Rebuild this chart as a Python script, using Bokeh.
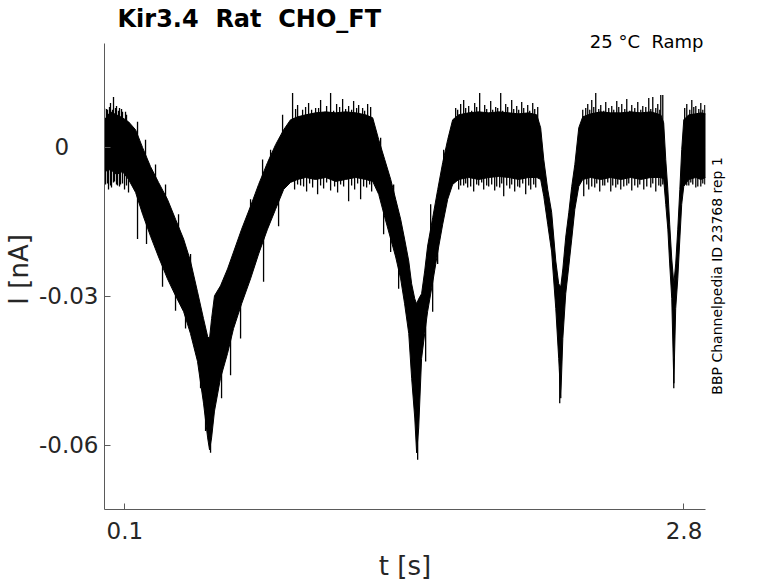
import math
from bokeh.plotting import figure
from bokeh.models import Label, FixedTicker, Range1d, LinearAxis
from bokeh.embed import file_html
from bokeh.resources import INLINE

# ---- data (time in s, current in nA) ----
t_env = [0.002, 0.031, 0.060, 0.089, 0.118, 0.152, 0.186, 0.224, 0.263, 0.306, 0.345, 0.384, 0.417, 0.451,
         0.480, 0.500, 0.509, 0.519, 0.533, 0.562, 0.596, 0.625, 0.664, 0.707, 0.746, 0.789, 0.828, 0.867,
         0.900, 0.934, 0.973, 1.021, 1.070, 1.118, 1.166, 1.215, 1.263, 1.297, 1.326, 1.355, 1.384, 1.408,
         1.432, 1.451, 1.471, 1.485, 1.500, 1.509, 1.519, 1.533, 1.548, 1.562, 1.587, 1.611, 1.635, 1.659,
         1.683, 1.712, 1.760, 1.809, 1.857, 1.905, 1.954, 2.002, 2.050, 2.089, 2.108, 2.123, 2.142, 2.161,
         2.181, 2.195, 2.205, 2.215, 2.229, 2.244, 2.258, 2.273, 2.292, 2.311, 2.350, 2.398, 2.446, 2.495,
         2.543, 2.591, 2.640, 2.688, 2.702, 2.712, 2.722, 2.731, 2.741, 2.751, 2.760, 2.770, 2.780, 2.789,
         2.799, 2.823, 2.857, 2.881, 2.905]
upper = [0.0055, 0.0071, 0.0065, 0.0059, 0.0051, 0.0035, -0.0001, -0.0039, -0.0071, -0.0105, -0.0145, -0.0185,
         -0.0229, -0.0291, -0.0345, -0.0381, -0.0385, -0.0345, -0.0299, -0.0279, -0.0245, -0.0211, -0.0165,
         -0.0119, -0.0075, -0.0031, 0.0005, 0.0035, 0.0055, 0.0061, 0.0065, 0.0069, 0.0071, 0.0069, 0.0071,
         0.0069, 0.0065, 0.0059, 0.0015, -0.0025, -0.0065, -0.0105, -0.0145, -0.0185, -0.0229, -0.0275,
         -0.0305, -0.0315, -0.0305, -0.0295, -0.0249, -0.0199, -0.0141, -0.0085, -0.0031, 0.0015, 0.0055,
         0.0065, 0.0069, 0.0071, 0.0069, 0.0071, 0.0069, 0.0067, 0.0069, 0.0065, 0.0039, -0.0025, -0.0085,
         -0.0131, -0.0229, -0.0275, -0.0281, -0.0245, -0.0181, -0.0131, -0.0079, -0.0035, 0.0039, 0.0061,
         0.0067, 0.0071, 0.0069, 0.0069, 0.0071, 0.0069, 0.0071, 0.0065, 0.0049, -0.0025, -0.0085, -0.0155,
         -0.0225, -0.0275, -0.0235, -0.0165, -0.0085, -0.0005, 0.0055, 0.0065, 0.0067, 0.0069, 0.0067]
lower = [-0.0049, -0.0045, -0.0055, -0.0049, -0.0065, -0.0091, -0.0135, -0.0179, -0.0221, -0.0265, -0.0299,
         -0.0331, -0.0375, -0.0431, -0.0515, -0.0585, -0.0609, -0.0585, -0.0531, -0.0465, -0.0415, -0.0365,
         -0.0315, -0.0265, -0.0215, -0.0165, -0.0125, -0.0085, -0.0071, -0.0065, -0.0061, -0.0065, -0.0061,
         -0.0069, -0.0065, -0.0061, -0.0065, -0.0069, -0.0095, -0.0141, -0.0185, -0.0221, -0.0265, -0.0315,
         -0.0375, -0.0465, -0.0545, -0.0615, -0.0565, -0.0425, -0.0375, -0.0331, -0.0271, -0.0211, -0.0155,
         -0.0105, -0.0075, -0.0065, -0.0061, -0.0065, -0.0061, -0.0059, -0.0061, -0.0065, -0.0061, -0.0061,
         -0.0065, -0.0099, -0.0155, -0.0211, -0.0325, -0.0425, -0.0505, -0.0385, -0.0295, -0.0239, -0.0185,
         -0.0125, -0.0079, -0.0065, -0.0061, -0.0065, -0.0061, -0.0065, -0.0061, -0.0065, -0.0061, -0.0061,
         -0.0065, -0.0115, -0.0165, -0.0235, -0.0305, -0.0475, -0.0325, -0.0265, -0.0185, -0.0115, -0.0079,
         -0.0065, -0.0061, -0.0065, -0.0061]

# long noise spikes: time, value inside the band, spike tip
spike_t = [0.0019, 0.0164, 0.0309, 0.0454, 0.0599, 0.0744, 0.0889, 0.1082,
           0.0068, 0.0213, 0.0357, 0.0502, 0.0647, 0.0792, 0.0986, 0.1179,
           0.1614, 0.2000, 0.2483, 0.2966, 0.3594, 0.4174,
           0.1614, 0.2048, 0.2821, 0.3449, 0.3932, 0.4657, 0.4899, 0.5140, 0.5671, 0.6106, 0.6589,
           0.7072, 0.7652, 0.7700, 0.8039, 0.8425, 0.8618,
           0.9101, 0.9343, 0.9585, 0.9874, 1.0213, 1.0454, 1.0744, 1.0937, 1.1227, 1.1517, 1.1807,
           1.2048, 1.2290, 1.2483, 1.2725, 1.2870,
           0.9198, 0.9488, 0.9778, 1.0068, 1.0309, 1.0599, 1.0937, 1.1275, 1.1565, 1.1807, 1.2097,
           1.2386, 1.2676, 1.2918,
           1.3353, 1.3497, 1.3836, 1.3981, 1.4222, 1.5140, 1.5526, 1.5768, 1.5865, 1.6106, 1.6396,
           1.6976, 1.7217, 1.7362, 1.7604, 1.7894, 1.8135, 1.8377, 1.8667, 1.8908, 1.9150, 1.9391,
           1.9681, 1.9923, 2.0164, 2.0454, 2.0696, 2.0937,
           1.7121, 1.7362, 1.7555, 1.7845, 1.8087, 1.8329, 1.8570, 1.8860, 1.9101, 1.9295, 1.9585,
           1.9826, 2.0068, 2.0357, 2.0599, 2.0841,
           2.2000,
           2.3111, 2.3353, 2.3546, 2.3739, 2.3981, 2.4222, 2.4512, 2.4754, 2.4995, 2.5237, 2.5478,
           2.5768, 2.6010, 2.6299, 2.6493, 2.6734, 2.6879, 2.6976,
           2.3159, 2.3401, 2.3691, 2.3932, 2.4174, 2.4464, 2.4705, 2.4947, 2.5237, 2.5478, 2.5768,
           2.6058, 2.6396, 2.6638, 2.6879,
           2.7507,
           2.8135, 2.8377, 2.8570, 2.8812, 2.9005,
           2.8135, 2.8329, 2.8570, 2.8812, 2.9005]
spike_base = [0.0] * 16 + \
    [-0.0025, -0.0045, -0.0085, -0.0135, -0.0195, -0.0265,
     -0.0065, -0.0115, -0.0185, -0.0245, -0.0305, -0.0425, -0.0505, -0.0545, -0.0445, -0.0345, -0.0285,
     -0.0165, -0.0085, -0.0165, -0.0045, -0.0085, -0.0005] + \
    [0.0] * 30 + \
    [-0.0035, -0.0105, -0.0165, -0.0135, -0.0225, -0.0565, -0.0345, -0.0185, -0.0245, -0.0165, -0.0045] + \
    [0.0] * 33 + [-0.0445] + [0.0] * 33 + [-0.0425] + [0.0] * 10
spike_tip = [0.0079, 0.0075, 0.0089, 0.0101, 0.0083, 0.0079, 0.0071, 0.0065,
             -0.0075, -0.0085, -0.0081, -0.0069, -0.0077, -0.0075, -0.0085, -0.0091,
             0.0051, 0.0015, -0.0035, -0.0075, -0.0135, -0.0215,
             -0.0185, -0.0195, -0.0281, -0.0329, -0.0365, -0.0485, -0.0571, -0.0615, -0.0505, -0.0459, -0.0385,
             -0.0105, -0.0025, -0.0271, -0.0005, -0.0159, 0.0065,
             0.0109, 0.0085, 0.0075, 0.0089, 0.0079, 0.0095, 0.0083, 0.0109, 0.0087, 0.0097, 0.0083,
             0.0093, 0.0085, 0.0079, 0.0087, 0.0081,
             -0.0085, -0.0077, -0.0089, -0.0081, -0.0095, -0.0083, -0.0087, -0.0091, -0.0079, -0.0109, -0.0085,
             -0.0105, -0.0081, -0.0089,
             0.0019, -0.0175, -0.0211, -0.0075, -0.0285, -0.0629, -0.0431, -0.0115, -0.0331, -0.0235, -0.0005,
             0.0079, 0.0087, 0.0095, 0.0083, 0.0089, 0.0109, 0.0085, 0.0093, 0.0081, 0.0109, 0.0087,
             0.0095, 0.0083, 0.0091, 0.0085, 0.0089, 0.0081,
             -0.0085, -0.0077, -0.0081, -0.0089, -0.0077, -0.0085, -0.0079, -0.0087, -0.0081, -0.0099, -0.0083,
             -0.0089, -0.0081, -0.0095, -0.0085, -0.0081,
             -0.0515,
             0.0075, 0.0087, 0.0095, 0.0109, 0.0085, 0.0091, 0.0083, 0.0093, 0.0087, 0.0097, 0.0085,
             0.0091, 0.0083, 0.0099, 0.0101, 0.0087, 0.0105, 0.0105,
             -0.0099, -0.0085, -0.0081, -0.0089, -0.0077, -0.0089, -0.0081, -0.0085, -0.0077, -0.0087, -0.0081,
             -0.0085, -0.0081, -0.0089, -0.0079,
             -0.0485,
             0.0087, 0.0095, 0.0083, 0.0089, 0.0085,
             -0.0077, -0.0071, -0.0081, -0.0079, -0.0075]

# short noise spikes on the flat stretches (from 0 to tip)
short_t = [0.0116, 0.0261, 0.0406, 0.0551, 0.0696, 0.0841, 0.1034,
           0.0164, 0.0309, 0.0454, 0.0599, 0.0744, 0.0889, 0.1082,
           0.9246, 0.9729, 1.0019, 1.0357, 1.1082, 1.1372, 1.1662, 1.1952, 1.2193, 1.2580,
           0.9343, 0.9633, 0.9923, 1.0454, 1.0744, 1.1130, 1.1420, 1.1952, 1.2242, 1.2531, 1.2821,
           1.7072, 1.7459, 1.7749, 1.7990, 1.8473, 1.8763, 1.9005, 1.9246, 1.9488, 1.9778, 2.0019,
           2.0261, 2.0551, 2.0792,
           1.7217, 1.7459, 1.7700, 1.7990, 1.8232, 1.8473, 1.8715, 1.8957, 1.9198, 1.9440, 1.9681,
           1.9971, 2.0213, 2.0502, 2.0744,
           2.3256, 2.3449, 2.3643, 2.3884, 2.4126, 2.4367, 2.4609, 2.4850, 2.5140, 2.5382, 2.5623,
           2.5913, 2.6155, 2.6396, 2.6638, 2.6831,
           2.3304, 2.3546, 2.3788, 2.4077, 2.4319, 2.4560, 2.4802, 2.5092, 2.5333, 2.5623, 2.5865,
           2.6203, 2.6493, 2.6783, 2.6976,
           2.8034, 2.8280, 2.8473, 2.8715, 2.8908,
           2.8087, 2.8232, 2.8425, 2.8667, 2.8908]
short_tip = [0.0077, 0.0081, 0.0075, 0.0079, 0.0073, 0.0077, 0.0071,
             -0.0073, -0.0077, -0.0071, -0.0075, -0.0079, -0.0073, -0.0077,
             0.0077, 0.0081, 0.0075, 0.0079, 0.0073, 0.0081, 0.0077, 0.0075, 0.0079, 0.0073,
             -0.0075, -0.0079, -0.0073, -0.0077, -0.0071, -0.0079, -0.0075, -0.0077, -0.0073, -0.0079, -0.0075,
             0.0075, 0.0079, 0.0073, 0.0081, 0.0077, 0.0075, 0.0079, 0.0073, 0.0081, 0.0077, 0.0075,
             0.0079, 0.0073, 0.0077,
             -0.0077, -0.0073, -0.0079, -0.0075, -0.0071, -0.0077, -0.0075, -0.0079, -0.0073, -0.0077, -0.0075,
             -0.0079, -0.0073, -0.0077, -0.0075,
             0.0079, 0.0075, 0.0081, 0.0077, 0.0073, 0.0079, 0.0075, 0.0081, 0.0077, 0.0073, 0.0079,
             0.0075, 0.0081, 0.0077, 0.0079, 0.0075,
             -0.0075, -0.0079, -0.0073, -0.0077, -0.0071, -0.0077, -0.0075, -0.0079, -0.0073, -0.0077, -0.0075,
             -0.0079, -0.0073, -0.0077, -0.0075,
             0.0079, 0.0075, 0.0081, 0.0077, 0.0075,
             -0.0073, -0.0077, -0.0075, -0.0079, -0.0073]

NB = "\u00a0"
x_ticks = [0.1, 2.8]
x_tick_labels = ["0.1", "2.8"]
y_ticks = [-0.06, -0.03, 0.0]
y_tick_labels = ["-0.06", "-0.03", "0" + NB * 4]
y_axis_span = (-0.0729, 0.0209)
side_note = "BBP Channelpedia ID 23768 rep 1"
side_note_at = -0.0498

FONT = "DejaVu Sans"
INK = "#262626"

# the frame reaches up to the top so that the two headings are drawn inside it;
# the y axis line is limited to the real axes box with `bounds`
p = figure(width=778, height=583, output_backend="svg", toolbar_location=None,
           x_range=Range1d(0.0019, 2.9039), y_range=Range1d(-0.0729, 0.0287),
           min_border_left=104, min_border_right=73, min_border_top=4, min_border_bottom=71)
p.outline_line_color = None
p.xgrid.visible = False
p.ygrid.visible = False
p.background_fill_color = "white"

p.varea(x=t_env, y1=lower, y2=upper, fill_color="black")
p.line(x=t_env, y=upper, line_color="black", line_width=1)
p.line(x=t_env, y=lower, line_color="black", line_width=1)
p.segment(x0=spike_t, y0=spike_base, x1=spike_t, y1=spike_tip, line_color="black", line_width=1.3)
p.segment(x0=short_t, y0=[0.0] * len(short_t), x1=short_t, y1=short_tip, line_color="black", line_width=1.3)

for ax in (p.xaxis[0], p.yaxis[0]):
    ax.axis_line_color = "#5a5a5a"
    ax.major_tick_line_color = "#5a5a5a"
    ax.major_tick_in = 6
    ax.major_tick_out = 0
    ax.minor_tick_line_color = None
    ax.major_label_text_font = FONT
    ax.major_label_text_font_size = "23px"
    ax.major_label_text_color = INK
    ax.axis_label_text_font = FONT
    ax.axis_label_text_font_size = "26px"
    ax.axis_label_text_font_style = "normal"
    ax.axis_label_text_color = INK

p.yaxis.bounds = y_axis_span
p.xaxis.ticker = FixedTicker(ticks=x_ticks)
p.xaxis.major_label_overrides = dict(zip(x_ticks, x_tick_labels))
p.yaxis.ticker = FixedTicker(ticks=y_ticks)
p.yaxis.major_label_overrides = dict(zip(y_ticks, y_tick_labels))
p.xaxis.axis_label = "t [s]"
p.yaxis.axis_label = "I [nA]" + NB * 3
p.xaxis.major_label_standoff = 12
p.yaxis.major_label_standoff = 6
p.xaxis.axis_label_standoff = 9
p.yaxis.axis_label_standoff = 2

# vertical note on the right, as the single label of a right-hand axis
right_axis = LinearAxis(ticker=FixedTicker(ticks=[side_note_at]),
                        major_label_overrides={side_note_at: side_note},
                        major_label_orientation=math.pi / 2,
                        axis_line_color=None, major_tick_line_color=None, minor_tick_line_color=None,
                        major_label_text_font=FONT, major_label_text_font_size="14px",
                        major_label_text_color="black", major_label_standoff=6)
p.add_layout(right_axis, "right")

p.add_layout(Label(x=117, y=18.5, x_units="canvas", y_units="canvas",
                   text="Kir3.4" + NB + " Rat" + NB + " CHO_FT", text_font=FONT,
                   text_font_size="24px", text_font_style="bold", text_color="black",
                   text_baseline="middle", text_align="left"))
p.add_layout(Label(x=703, y=41, x_units="canvas", y_units="canvas",
                   text="25 °C" + NB + " Ramp", text_font=FONT,
                   text_font_size="18px", text_color="black",
                   text_baseline="middle", text_align="right"))

open("out.html", "w").write(file_html(p, INLINE))
